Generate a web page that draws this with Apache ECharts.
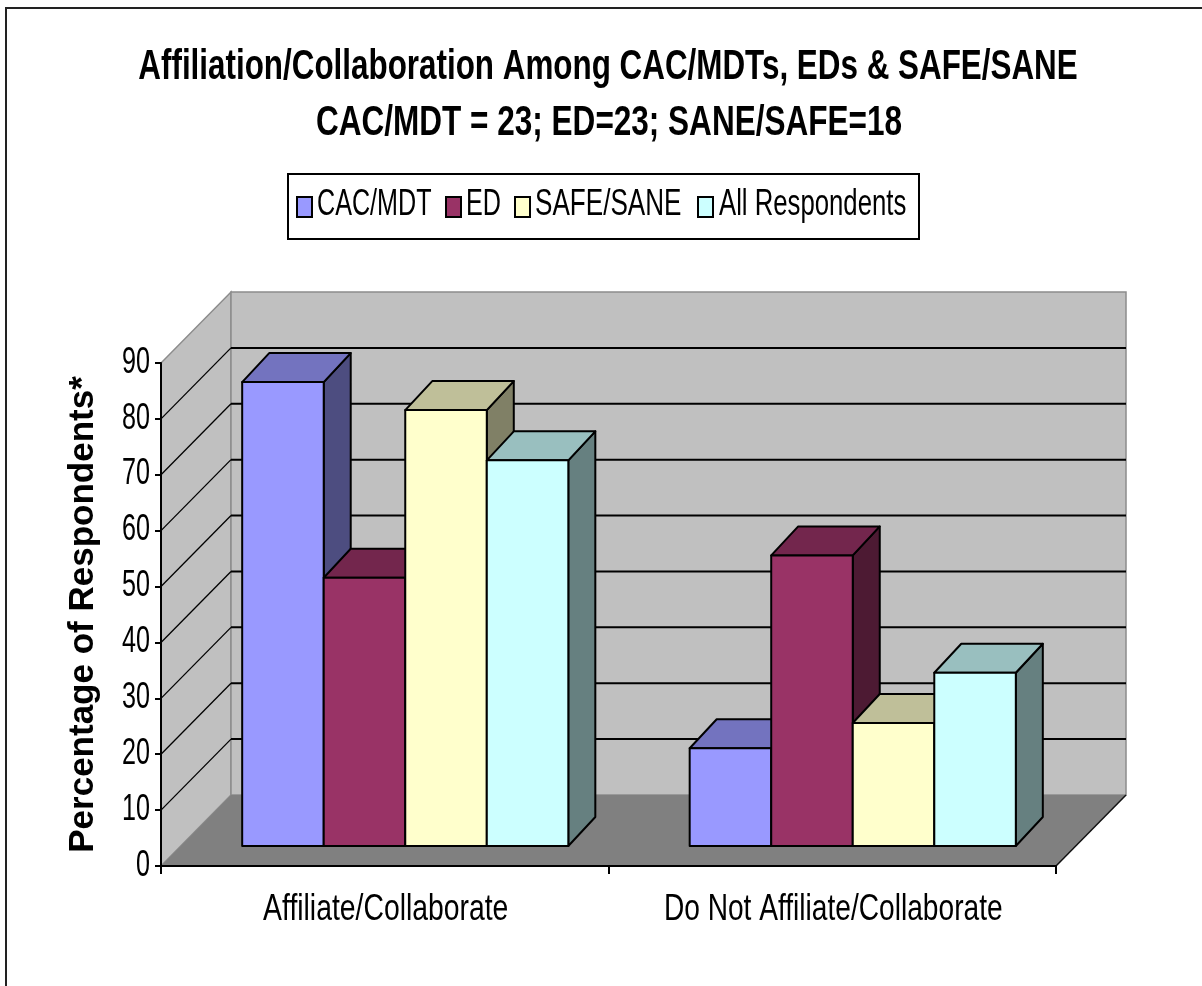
<!DOCTYPE html>
<html>
<head>
<meta charset="utf-8">
<style>
  html, body { margin: 0; padding: 0; background: #fff; overflow: hidden; }
  #main { width: 1202px; height: 986px; filter: blur(0.7px); }
</style>
<script src="https://cdn.jsdelivr.net/npm/echarts@6/dist/echarts.min.js"></script>
</head>
<body>
<div id="main"></div>
<script>
// data
var titleLines = ['Affiliation/Collaboration Among CAC/MDTs, EDs & SAFE/SANE', 'CAC/MDT = 23; ED=23; SANE/SAFE=18'];
var categories = ['Affiliate/Collaborate', 'Do Not Affiliate/Collaborate'];
var seriesNames = ['CAC/MDT', 'ED', 'SAFE/SANE', 'All Respondents'];
var cacMdt = [83, 17.5];
var ed = [48, 52];
var safeSane = [78, 22];
var allRespondents = [69, 31];
var yTicks = [0, 10, 20, 30, 40, 50, 60, 70, 80, 90];

var frontColors = ['#9999FF', '#993366', '#FFFFCC', '#CCFFFF'];
var topColors = ['#7373BF', '#73264D', '#BFBF99', '#99BFBF'];
var sideColors = ['#4D4D80', '#4D1A33', '#808066', '#668080'];

var font = '"Liberation Sans", Arial, sans-serif';

// 3d look: how far the back wall and the bar depth are pushed, in pixels
var wallDx = 70, wallDy = 71;
var barInsetX = 20.5, barInsetY = 20, barDx = 27, barDy = 29;
var barShare = 0.1822;

function renderWalls(params, api) {
  var cs = params.coordSys;
  var x0 = cs.x, x1 = cs.x + cs.width;
  var y0 = api.coord([0, 0])[1];
  var yTop = api.coord([0, 90])[1];
  var kids = [];
  // side wall
  kids.push({ type: 'polygon', shape: { points: [[x0, y0], [x0, yTop], [x0 + wallDx, yTop - wallDy], [x0 + wallDx, y0 - wallDy]] },
    style: { fill: '#C0C0C0', stroke: '#8c8c8c', lineWidth: 1.5 } });
  // back wall
  kids.push({ type: 'rect', shape: { x: x0 + wallDx, y: yTop - wallDy, width: x1 - x0, height: y0 - yTop },
    style: { fill: '#C0C0C0', stroke: '#8c8c8c', lineWidth: 1.5 } });
  // floor
  kids.push({ type: 'polygon', shape: { points: [[x0, y0], [x1, y0], [x1 + wallDx, y0 - wallDy], [x0 + wallDx, y0 - wallDy]] },
    style: { fill: '#808080' } });
  kids.push({ type: 'line', shape: { x1: x1, y1: y0, x2: x1 + wallDx, y2: y0 - wallDy },
    style: { stroke: '#111', lineWidth: 1.5 } });
  // gridlines, skipping the floor and the top edge
  yTicks.forEach(function (t) {
    if (t === 0 || t === 90) return;
    var y = api.coord([0, t])[1];
    kids.push({ type: 'line', shape: { x1: x0, y1: y, x2: x0 + wallDx, y2: y - wallDy },
      style: { stroke: '#000', lineWidth: 1.3 } });
    kids.push({ type: 'line', shape: { x1: x0 + wallDx, y1: y - wallDy, x2: x1 + wallDx, y2: y - wallDy },
      style: { stroke: '#000', lineWidth: 2 } });
  });
  return { type: 'group', children: kids };
}

function makeBars(index) {
  return function (params, api) {
    var cat = api.value(0);
    var base = api.coord([cat, 0]);
    var topPt = api.coord([cat, api.value(1)]);
    var w = api.size([1, 0])[0] * barShare;
    var x = base[0] + barInsetX + (index - 2) * w;
    var yb = base[1] - barInsetY;
    var yt = topPt[1] - barInsetY;
    var line = { stroke: '#000', lineWidth: 2, lineJoin: 'round' };
    return {
      type: 'group',
      children: [
        { type: 'polygon', shape: { points: [[x + w, yb], [x + w + barDx, yb - barDy], [x + w + barDx, yt - barDy], [x + w, yt]] },
          style: Object.assign({ fill: sideColors[index] }, line) },
        { type: 'polygon', shape: { points: [[x, yt], [x + barDx, yt - barDy], [x + w + barDx, yt - barDy], [x + w, yt]] },
          style: Object.assign({ fill: topColors[index] }, line) },
        { type: 'rect', shape: { x: x, y: yt, width: w, height: yb - yt },
          style: Object.assign({ fill: frontColors[index] }, line) }
      ]
    };
  };
}

function barSeries(index, values) {
  return {
    name: seriesNames[index],
    type: 'custom',
    z: 3 + index,
    encode: { x: 0, y: 1 },
    data: values.map(function (v, i) { return [i, v]; }),
    renderItem: makeBars(index)
  };
}

// narrow text: no condensed face is installed, so squeeze a normal one
function squeezed(text, x, y, size, scaleX, align, weight) {
  return {
    type: 'text', x: x, y: y, scaleX: scaleX, silent: true,
    style: { text: text, fontFamily: font, fontSize: size, fontWeight: weight || 'normal',
      fill: '#000', textAlign: align, textVerticalAlign: 'middle', verticalAlign: 'middle' }
  };
}

// tick labels placed through the axes so they can be squeezed too
function renderLabels(params, api) {
  var cs = params.coordSys;
  var kids = yTicks.map(function (t) {
    return squeezed(String(t), cs.x - 11, api.coord([0, t])[1] - 0.5, 37, 0.68, 'right');
  });
  categories.forEach(function (c, i) {
    var scale = i === 0 ? 0.766 : 0.76;
    kids.push(squeezed(c, api.coord([i, 0])[0] + 1, cs.y + cs.height + 44, 37, scale, 'center'));
  });
  return { type: 'group', children: kids };
}

var legendSwatchX = [297, 446, 515, 698];
var legendTextX = [317, 466, 535, 719];
var legendScale = [0.68, 0.68, 0.705, 0.695];
var legendItems = [];
seriesNames.forEach(function (name, i) {
  legendItems.push({ type: 'rect', silent: true, shape: { x: legendSwatchX[i], y: 197, width: 15, height: 20 },
    style: { fill: frontColors[i], stroke: '#000', lineWidth: 2 } });
  legendItems.push(squeezed(name, legendTextX[i], 205, 37, legendScale[i], 'left'));
});

var chart = echarts.init(document.getElementById('main'), null, { renderer: 'canvas' });

var option = {
  animation: false,
  backgroundColor: '#fff',
  grid: { left: 161, top: 363, width: 895, height: 503 },
  xAxis: {
    type: 'category',
    data: categories,
    z: 10,
    axisLine: { lineStyle: { color: '#000', width: 2 } },
    axisTick: { show: true, interval: 0, alignWithLabel: false, length: 8, lineStyle: { color: '#000', width: 2 } },
    axisLabel: { show: false }
  },
  yAxis: {
    type: 'value',
    min: 0,
    max: 90,
    interval: 10,
    z: 10,
    name: 'Percentage of Respondents*',
    nameLocation: 'middle',
    nameGap: 60,
    nameTextStyle: { fontFamily: font, fontWeight: 'bold', fontSize: 35, color: '#000' },
    axisLine: { show: true, lineStyle: { color: '#000', width: 2 } },
    axisTick: { show: true, length: 6, lineStyle: { color: '#000', width: 2 } },
    axisLabel: { show: false },
    splitLine: { show: false }
  },
  graphic: [
    { type: 'rect', silent: true, z: -1, shape: { x: 6, y: 8, width: 1300, height: 1100 },
      style: { fill: 'none', stroke: '#222', lineWidth: 2 } },
    squeezed(titleLines[0], 608, 67, 43, 0.73, 'center', 'bold'),
    squeezed(titleLines[1], 609, 123, 43, 0.733, 'center', 'bold'),
    { type: 'rect', silent: true, shape: { x: 288, y: 174, width: 631, height: 65 },
      style: { fill: '#fff', stroke: '#000', lineWidth: 2 } }
  ].concat(legendItems),
  series: [
    { type: 'custom', name: 'walls', z: 2, silent: true, data: [[0, 0]], encode: { x: 0, y: 1 }, renderItem: renderWalls },
    barSeries(0, cacMdt),
    barSeries(1, ed),
    barSeries(2, safeSane),
    barSeries(3, allRespondents),
    { type: 'custom', name: 'labels', z: 9, silent: true, data: [[0, 0]], encode: { x: 0, y: 1 }, renderItem: renderLabels }
  ]
};

chart.setOption(option);
</script>
</body>
</html>
